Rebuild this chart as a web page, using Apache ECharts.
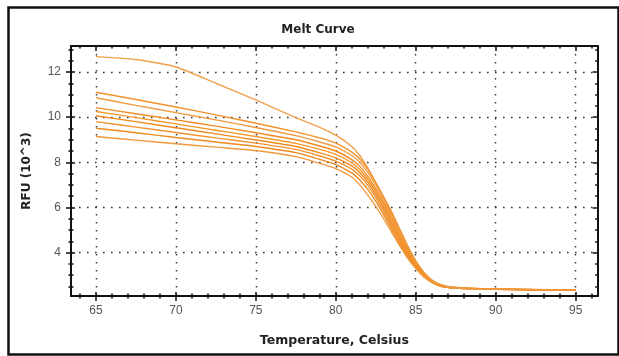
<!DOCTYPE html>
<html>
<head>
<meta charset="utf-8">
<title>Melt Curve</title>
<script src="https://cdn.jsdelivr.net/npm/echarts@6/dist/echarts.min.js"></script>
<style>
  html, body { margin: 0; padding: 0; background: #fff; }
  #chart { width: 619px; height: 356px; }
</style>
</head>
<body>
<div id="chart"></div>
<script>
// Temperatures (°C) at which every well was sampled
const temps = [65, 67.5, 70, 72.5, 75, 77.5, 79, 80, 81, 81.5, 82, 82.5, 83, 83.5, 84, 84.5, 85, 85.5, 86, 86.5, 87, 88, 90, 92.5, 95];

// RFU (x10^3) per well
const wellA = [12.68, 12.55, 12.22, 11.5, 10.76, 9.98, 9.55, 9.2, 8.7, 8.3, 7.75, 7.1, 6.45, 5.8, 5.05, 4.3, 3.65, 3.15, 2.8, 2.6, 2.5, 2.44, 2.4, 2.37, 2.35];
const wellB = [11.1, 10.78, 10.45, 10.1, 9.73, 9.35, 9.08, 8.85, 8.45, 8.15, 7.7, 7.1, 6.45, 5.75, 5.0, 4.25, 3.6, 3.1, 2.78, 2.58, 2.49, 2.43, 2.39, 2.36, 2.34];
const wellC = [10.86, 10.52, 10.2, 9.88, 9.54, 9.18, 8.9, 8.68, 8.3, 8.0, 7.55, 6.98, 6.35, 5.65, 4.92, 4.2, 3.57, 3.08, 2.76, 2.57, 2.48, 2.43, 2.39, 2.36, 2.34];
const wellD = [10.42, 10.15, 9.88, 9.6, 9.31, 9.0, 8.72, 8.5, 8.12, 7.82, 7.38, 6.82, 6.2, 5.52, 4.8, 4.1, 3.5, 3.03, 2.73, 2.56, 2.47, 2.42, 2.39, 2.36, 2.34];
const wellE = [10.25, 9.98, 9.7, 9.42, 9.14, 8.84, 8.57, 8.35, 7.98, 7.68, 7.25, 6.7, 6.08, 5.4, 4.7, 4.02, 3.45, 3.0, 2.72, 2.55, 2.47, 2.42, 2.38, 2.36, 2.34];
const wellF = [10.06, 9.8, 9.53, 9.26, 8.99, 8.7, 8.42, 8.2, 7.84, 7.55, 7.12, 6.58, 5.95, 5.28, 4.6, 3.95, 3.4, 2.97, 2.7, 2.54, 2.46, 2.41, 2.38, 2.35, 2.33];
const wellG = [9.8, 9.56, 9.32, 9.08, 8.85, 8.57, 8.28, 8.05, 7.7, 7.4, 6.98, 6.45, 5.82, 5.15, 4.5, 3.88, 3.36, 2.95, 2.69, 2.53, 2.46, 2.41, 2.38, 2.35, 2.33];
const wellH = [9.51, 9.31, 9.1, 8.9, 8.7, 8.43, 8.13, 7.9, 7.53, 7.22, 6.8, 6.28, 5.68, 5.03, 4.4, 3.82, 3.33, 2.93, 2.68, 2.52, 2.45, 2.41, 2.38, 2.35, 2.33];
const wellI = [9.14, 8.98, 8.82, 8.67, 8.52, 8.25, 7.95, 7.72, 7.35, 7.0, 6.55, 6.05, 5.5, 4.9, 4.3, 3.75, 3.3, 2.95, 2.7, 2.55, 2.47, 2.42, 2.39, 2.36, 2.33];

// Axis ranges and tick positions
const xRange = [63.44, 96.38];
const yRange = [2.08, 13.15];
const xMajor = [65, 70, 75, 80, 85, 90, 95];
const xMinor = [64, 65, 66, 67, 68, 69, 70, 71, 72, 73, 74, 75, 76, 77, 78, 79, 80, 81, 82, 83, 84, 85, 86, 87, 88, 89, 90, 91, 92, 93, 94, 95, 96];
const yMajor = [4, 6, 8, 10, 12];
const yMinor = [2.5, 3, 3.5, 4, 4.5, 5, 5.5, 6, 6.5, 7, 7.5, 8, 8.5, 9, 9.5, 10, 10.5, 11, 11.5, 12, 12.5, 13];

const wells = [wellA, wellB, wellC, wellD, wellE, wellF, wellG, wellH, wellI];
const lineColors = ['#f0a04a', '#f2922c', '#ef9c44', '#f08c22', '#f3982f', '#ee8a1e', '#f19433', '#ec8a22', '#f09a40'];

const chart = echarts.init(document.getElementById('chart'), null, { renderer: 'canvas' });

const frameColor = '#111';
const tickStyle = { color: frameColor, width: 1.5 };

// Extra axes that only carry tick marks around the plot frame
function tickAxis(position, values, inside, len, showLine, range) {
  return {
    type: 'value',
    position: position,
    min: range[0],
    max: range[1],
    silent: true,
    axisLine: { show: showLine, onZero: false, lineStyle: { color: frameColor, width: 2 } },
    axisTick: { show: true, customValues: values, inside: inside, length: len, lineStyle: tickStyle },
    axisLabel: { show: false },
    splitLine: { show: false },
    minorTick: { show: false }
  };
}

const labelFont = { fontFamily: 'Liberation Sans, Arial, sans-serif', fontSize: 12, color: '#555' };
const nameFont = { fontFamily: 'DejaVu Sans, sans-serif', fontWeight: 'bold', fontSize: 12, color: '#222' };
const dotted = { type: [1.6, 6.4], color: '#333', width: 1.4 };

chart.setOption({
  backgroundColor: '#fff',
  animation: false,
  title: {
    text: 'Melt Curve',
    left: 313,
    top: 19,
    textAlign: 'center',
    textStyle: { fontFamily: 'DejaVu Sans, sans-serif', fontWeight: 'bold', fontSize: 12, color: '#222' }
  },
  graphic: [{
    type: 'rect',
    left: 6, top: 5,
    shape: { width: 610, height: 347 },
    style: { fill: 'none', stroke: '#111', lineWidth: 2.5 },
    silent: true,
    z: 100
  }],
  grid: { left: 71, right: 21.3, top: 46, bottom: 60, containLabel: false },
  xAxis: [
    {
      type: 'value',
      position: 'bottom',
      min: xRange[0],
      max: xRange[1],
      name: 'Temperature, Celsius',
      nameLocation: 'middle',
      nameGap: 38,
      nameTextStyle: Object.assign({}, nameFont, { fontSize: 12.5 }),
      axisLine: { show: true, onZero: false, lineStyle: { color: frameColor, width: 2 } },
      axisTick: { show: true, customValues: xMajor, inside: false, length: 5, lineStyle: tickStyle },
      axisLabel: Object.assign({ customValues: xMajor, margin: 9 }, labelFont),
      splitLine: { show: true, lineStyle: dotted }
    },
    tickAxis('bottom', xMajor, true, 4, false, xRange),
    tickAxis('bottom', xMinor, true, 2.5, false, xRange),
    tickAxis('bottom', xMinor, false, 2.5, false, xRange),
    tickAxis('top', xMajor, true, 5, true, xRange),
    tickAxis('top', xMinor, true, 2.5, false, xRange)
  ],
  yAxis: [
    {
      type: 'value',
      position: 'left',
      min: yRange[0],
      max: yRange[1],
      name: 'RFU (10^3)',
      nameLocation: 'middle',
      nameGap: 38,
      nameTextStyle: nameFont,
      axisLine: { show: true, onZero: false, lineStyle: { color: frameColor, width: 2 } },
      axisTick: { show: true, customValues: yMajor, inside: false, length: 5, lineStyle: tickStyle },
      axisLabel: Object.assign({ customValues: yMajor, margin: 10 }, labelFont),
      splitLine: { show: true, lineStyle: dotted }
    },
    tickAxis('left', yMajor, true, 4, false, yRange),
    tickAxis('left', yMinor, true, 2.5, false, yRange),
    tickAxis('left', yMinor, false, 2.5, false, yRange),
    tickAxis('right', yMajor, true, 5, true, yRange),
    tickAxis('right', yMinor, true, 2.5, false, yRange)
  ],
  series: wells.map(function (vals, i) {
    return {
      type: 'line',
      xAxisIndex: 0,
      yAxisIndex: 0,
      data: temps.map(function (t, j) { return [t, vals[j]]; }),
      showSymbol: false,
      symbol: 'none',
      smooth: 0.2,
      lineStyle: { color: lineColors[i], width: 1.4 },
      silent: true
    };
  })
});
</script>
</body>
</html>
